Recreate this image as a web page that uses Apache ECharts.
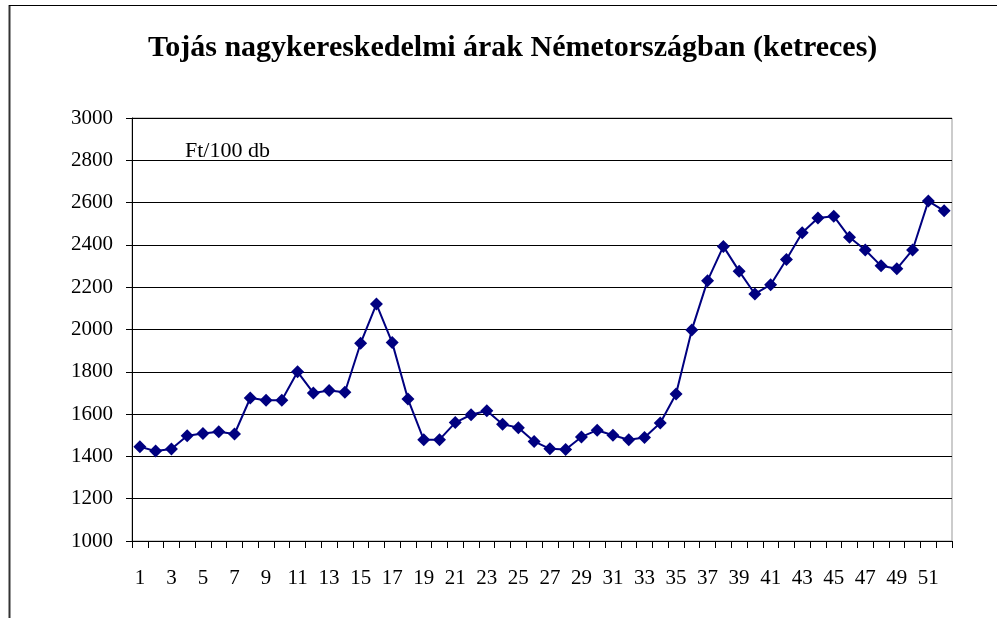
<!DOCTYPE html>
<html>
<head>
  <meta charset="utf-8">
  <title>Tojás nagykereskedelmi árak</title>
  <style type="text/css">
    html, body { margin: 0; padding: 0; background: #fff; }
    #main { width: 997px; height: 618px; }
  </style>
</head>
<body>
<div id="main"></div>
<script type="text/javascript" src="https://cdn.jsdelivr.net/npm/echarts@6/dist/echarts.min.js"></script>
<script type="text/javascript">
  var titleText = 'Tojás nagykereskedelmi árak Németországban (ketreces)';
  var unitText = 'Ft/100 db';

  // heti sorszámok 1..52
  var weeks = [];
  for (var i = 1; i <= 52; i++) weeks.push(String(i));

  var prices = [1446, 1425, 1435, 1498, 1508, 1516, 1506, 1676, 1666, 1666,
                1800, 1700, 1712, 1703, 1935, 2120, 1938, 1671, 1479, 1479,
                1560, 1597, 1616, 1552, 1536, 1471, 1436, 1433, 1492, 1524,
                1500, 1479, 1489, 1558, 1695, 1998, 2231, 2393, 2276, 2168,
                2212, 2331, 2457, 2527, 2536, 2436, 2376, 2301, 2287, 2376,
                2607, 2561];

  var yMin = 1000, yMax = 3000, yStep = 200;

  var font = '"Liberation Serif", "Times New Roman", serif';
  var myChart = echarts.init(document.getElementById('main'));

  var option = {
    backgroundColor: '#fff',
    animation: false,
    textStyle: { fontFamily: font, color: '#000' },
    title: [
      {
        text: titleText,
        left: 143,
        top: 28,
        textStyle: { fontFamily: font, fontSize: 30, fontWeight: 'bold', color: '#000' }
      },
      {
        text: unitText,
        left: 180,
        top: 135,
        textStyle: { fontFamily: font, fontSize: 22, fontWeight: 'normal', color: '#000' }
      }
    ],
    graphic: [
      { type: 'line', shape: { x1: 9.5, y1: 5, x2: 9.5, y2: 618 }, style: { stroke: '#333', lineWidth: 2 } },
      { type: 'line', shape: { x1: 9, y1: 5.5, x2: 997, y2: 5.5 }, style: { stroke: '#000', lineWidth: 1 } }
    ],
    grid: {
      left: 132,
      right: 45,
      top: 118,
      bottom: 77,
      show: true,
      borderColor: '#999',
      borderWidth: 1
    },
    xAxis: {
      type: 'category',
      data: weeks,
      boundaryGap: true,
      axisLine: { lineStyle: { color: '#000', width: 1 } },
      axisTick: { show: true, interval: 0, length: 7, lineStyle: { color: '#000' } },
      axisLabel: { interval: 1, margin: 27, fontSize: 21, fontFamily: font, color: '#000' },
      splitLine: { show: false }
    },
    yAxis: {
      type: 'value',
      min: yMin,
      max: yMax,
      interval: yStep,
      axisLine: { show: true, lineStyle: { color: '#000', width: 1 } },
      axisTick: { show: true, length: 6, lineStyle: { color: '#000' } },
      axisLabel: {
        margin: 19, fontSize: 21, fontFamily: font, color: '#000',
        formatter: function (v) { return String(v); }
      },
      splitLine: { show: true, lineStyle: { color: '#000', width: 1 } }
    },
    series: [
      {
        type: 'line',
        data: prices,
        symbol: 'diamond',
        symbolSize: 13,
        showAllSymbol: true,
        lineStyle: { color: '#000080', width: 2 },
        itemStyle: { color: '#000080' }
      }
    ]
  };

  myChart.setOption(option);
</script>
</body>
</html>
